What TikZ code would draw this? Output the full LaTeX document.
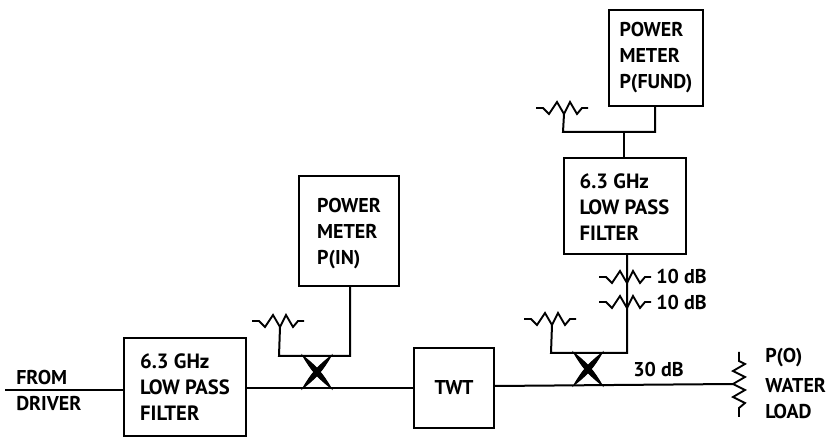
\documentclass[tikz,border=0pt]{standalone}
\usepackage{fontspec}
\setmainfont{PT Sans}
\tikzset{
  block/.style={draw, line width=1.5pt, align=left, inner sep=0pt, font=\fontsize{15}{19.5}\selectfont\bfseries},
  filterblock/.style={block, font=\fontsize{15.5}{19.5}\selectfont\bfseries},
  lbl/.style={inner sep=0pt, anchor=west, align=left, font=\fontsize{15}{19.5}\selectfont\bfseries},
  wire/.style={line width=1.5pt},
  pics/atten/.style={code={
    \draw[line width=1.4pt] (-27,0) -- (-20,0) -- (-14,6) -- (-6,-6) -- (1,6) -- (7,-6) -- (14,6) -- (19,0) -- (25,0);
    \coordinate (-tap) at (1,6);
  }},
  pics/xcross/.style={code={
    \filldraw[line width=0.8pt] (-14,-16) to[bend left=11] (14,16) to[bend left=11] cycle;
    \filldraw[line width=0.8pt] (14,-16) to[bend left=11] (-14,16) to[bend left=11] cycle;
  }}
}
\begin{document}
\begin{tikzpicture}[x=0.75pt,y=-0.75pt]
\useasboundingbox (0,0) rectangle (829,438);
% boxes
\node[filterblock, minimum width=122*0.75pt, minimum height=98*0.75pt] (lpfin) at (185,387) {6.3 GHz\\LOW PASS\\FILTER};
\node[block, minimum width=100*0.75pt, minimum height=110*0.75pt] (pmin) at (349,231) {\rule{0pt}{15pt}POWER\\METER\\P(IN)};
\node[block, minimum width=80*0.75pt, minimum height=80*0.75pt] (twt) at (454,388) {TWT};
\node[filterblock, minimum width=122*0.75pt, minimum height=96*0.75pt] (lpfout) at (624.5,206) {\rule{0pt}{13pt}6.3 GHz\\LOW PASS\\FILTER};
\node[block, minimum width=94*0.75pt, minimum height=96*0.75pt] (pmfund) at (656,58) {POWER\\METER\\P(FUND)};

% labels
\node[lbl] (from) at (16,378) {FROM};
\node[lbl] (driver) at (16,404) {DRIVER};
\node[lbl] (db1) at (656,277) {10 dB};
\node[lbl] (db2) at (656,303) {10 dB};
\node[lbl] (db3) at (633,370) {30 dB};
\node[lbl] (po) at (765,358) {P(O)};
\node[lbl] (water) at (765,385) {WATER};
\node[lbl] (load) at (765,412) {LOAD};

% resistors
\pic (rin) at (279,321) {atten};
\pic (rout) at (551,319) {atten};
\pic (rfund) at (563,108) {atten};
\pic (att1) at (626,277) {atten};
\pic (att2) at (626,302) {atten};

% junctions
\coordinate (src) at (5,390);
\coordinate (x1l) at (279,356);
\coordinate (x1r) at (350,356);
\coordinate (x2l) at (551,353);
\coordinate (x2r) at (627,353);
\coordinate (fl) at (563,132);
\coordinate (fr) at (655,132);
\coordinate (fm) at (624,132);
\coordinate (ld) at (733,384);

% main line
\draw[wire] (src) -- (lpfin.west |- src);
\draw[wire] (lpfin.east |- 0,388) -- (twt.west |- 0,388);
\draw[wire] (twt.east |- 0,386) -- (ld);

% couplers
\pic at (317,372) {xcross};
\pic at (588,369) {xcross};
\draw[wire] (rin-tap) -- (x1l) -- (x1r) -- (x1r |- pmin.south);
\draw[wire] (rout-tap) -- (x2l) -- (x2r) -- (x2r |- lpfout.south);
\draw[wire] (rfund-tap) -- (fl) -- (fr) -- (fr |- pmfund.south);
\draw[wire] (fm) -- (fm |- lpfout.north);

% water load
\draw[line width=1.4pt] (739,352) -- (739,361) -- (745,364) -- (733,371) -- (745,377) -- (733,384) -- (745,390) -- (733,397) -- (745,403) -- (739,408) -- (739,417);
\end{tikzpicture}
\end{document}
